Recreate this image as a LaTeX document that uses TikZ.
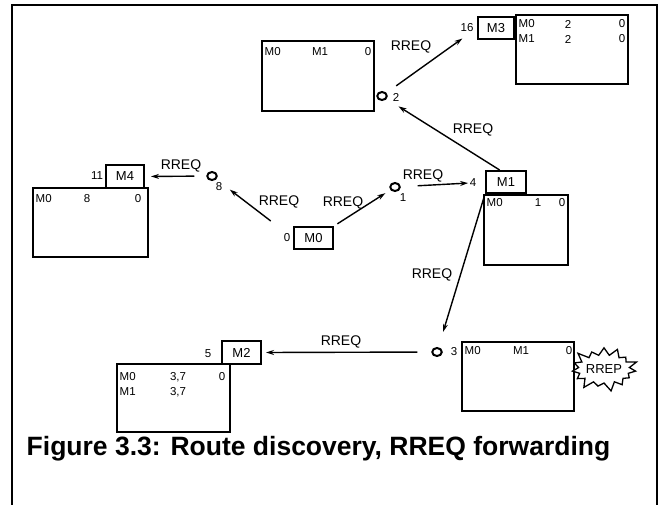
\documentclass[tikz,border=0pt]{standalone}
\usepackage{fontspec}
\setmainfont{Liberation Sans}
\usetikzlibrary{arrows.meta, shapes.geometric, shapes.symbols}

\begin{document}
\begin{tikzpicture}[x=1pt, y=-1pt, line width=1.4pt,
  box/.style={draw, line width=2pt, inner sep=0pt, font=\fontsize{13}{15}\selectfont},
  tab/.style={draw, line width=2pt, inner sep=0pt},
  hop/.style={draw, ellipse, line width=2pt, minimum width=9.5pt, minimum height=8pt, inner sep=0pt},
  txt/.style={inner sep=0pt, font=\fontsize{11.5}{13}\selectfont},
  msg/.style={inner sep=0pt, font=\fontsize{14}{16}\selectfont},
  arr/.style={-{Stealth[length=8pt, width=5pt]}, line width=1.4pt}]
  \useasboundingbox (0,0) rectangle (658,504);
  % frame
  \draw[line width=2pt] (11.5,506) -- (11.5,5) -- (656.5,5) -- (656.5,506);
  % node reached at hop 2
  \node[tab, minimum width=112pt, minimum height=70pt] (tabtwo) at (318,76) {};
  \node[txt, anchor=west] (tabtwoa) at (264,52) {M0};
  \node[txt] (tabtwob) at (320,52) {M1};
  \node[txt, anchor=east] (tabtwoc) at (372,52) {0};
  \node[hop] (ctwo) at (382,96) {};
  \node[txt] (ltwo) at (396,97) {2};
  % M3
  \node[txt] (lsixteen) at (467,28) {16};
  \node[box, minimum width=36pt, minimum height=22pt] (mthree) at (496,28) {M3};
  \node[tab, minimum width=112pt, minimum height=69pt] (tabthree) at (572,49.5) {};
  \node[txt, anchor=west] (tabthreea) at (518,24) {M0};
  \node[txt] (tabthreeb) at (568,24) {2};
  \node[txt, anchor=east] (tabthreec) at (626,24) {0};
  \node[txt, anchor=west] (tabthreed) at (518,39) {M1};
  \node[txt] (tabthreee) at (568,39) {2};
  \node[txt, anchor=east] (tabthreef) at (626,39) {0};
  % M4
  \node[txt] (leleven) at (97,176) {11};
  \node[box, minimum width=38pt, minimum height=23pt] (mfour) at (125,176.5) {M4};
  \node[tab, minimum width=115pt, minimum height=69pt] (tabfour) at (90.5,222.5) {};
  \node[txt, anchor=west] (tabfoura) at (35,199) {M0};
  \node[txt] (tabfourb) at (87,199) {8};
  \node[txt, anchor=east] (tabfourc) at (142,199) {0};
  \node[hop] (ceight) at (212,176) {};
  \node[txt] (leight) at (219,187) {8};
  % M0, the source
  \node[txt] (lzero) at (287,238) {0};
  \node[box, minimum width=39pt, minimum height=22pt] (mzero) at (313.5,238) {M0};
  \node[hop] (cone) at (395,187) {};
  \node[txt] (lone) at (403,198) {1};
  % M1
  \node[txt] (lfour) at (473,183) {4};
  \node[box, minimum width=40pt, minimum height=22pt] (mone) at (506,182) {M1};
  \node[tab, minimum width=84pt, minimum height=70pt] (tabone) at (526,230) {};
  \node[txt, anchor=west] (tabonea) at (486,203) {M0};
  \node[txt] (taboneb) at (538,203) {1};
  \node[txt, anchor=east] (tabonec) at (566,203) {0};
  % destination, answers with RREP
  \node[hop] (cthree) at (437,352) {};
  \node[txt] (lthree) at (454,352) {3};
  \node[tab, minimum width=112pt, minimum height=69pt] (tabdest) at (518,376.5) {};
  \node[txt, anchor=west] (tabdesta) at (464,351) {M0};
  \node[txt] (tabdestb) at (521,351) {M1};
  \node[txt, anchor=east] (tabdestc) at (573,351) {0};
  \node[draw, starburst, fill=white, line width=1.3pt, minimum width=62pt, minimum height=48pt,
    starburst point height=10pt, starburst points=15, inner sep=0pt,
    font=\fontsize{13}{15}\selectfont] (rrep) at (604,369) {RREP};
  % M2
  \node[txt] (lfive) at (208,354) {5};
  \node[box, minimum width=39pt, minimum height=23pt] (mtwo) at (241.5,352.5) {M2};
  \node[tab, minimum width=113pt, minimum height=68pt] (tabfive) at (173.5,398) {};
  \node[txt, anchor=west] (tabfivea) at (119,377) {M0};
  \node[txt] (tabfiveb) at (178,377) {3,7};
  \node[txt, anchor=east] (tabfivec) at (226,377) {0};
  \node[txt, anchor=west] (tabfived) at (119,392) {M1};
  \node[txt] (tabfivee) at (178,392) {3,7};
  % RREQ hops
  \draw[arr, shorten <=4pt, shorten >=6pt] (mzero.north east) -- (cone);
  \draw[arr, shorten <=28pt, shorten >=17pt] (mzero.west) -- (ceight);
  \draw[arr, shorten <=17pt, shorten >=1pt] (cone) -- (lfour.west);
  \draw[arr, shorten >=14pt] (mone.118) -- (ctwo);
  \draw[arr, shorten <=12pt, shorten >=18pt] (ctwo) -- (mthree.west);
  \draw[arr, shorten <=2pt, shorten >=16pt] (mone.south west) -- (cthree);
  \draw[arr, shorten <=14pt, shorten >=4pt] (cthree) -- (mtwo.east);
  \draw[arr, shorten <=12pt, shorten >=6pt] (ceight) -- (mfour.east);
  \node[msg] (rqa) at (343,203) {RREQ};
  \node[msg] (rqb) at (279,202) {RREQ};
  \node[msg] (rqc) at (423,176) {RREQ};
  \node[msg] (rqd) at (473,130) {RREQ};
  \node[msg] (rqe) at (411,47) {RREQ};
  \node[msg] (rqf) at (432,275) {RREQ};
  \node[msg] (rqg) at (341,342) {RREQ};
  \node[msg] (rqh) at (181,166) {RREQ};
  % caption
  \node[inner sep=0pt, anchor=base west, font=\bfseries\fontsize{26.5}{32}\selectfont] (caption)
    at (26,455) {Figure 3.3: Route discovery, RREQ forwarding};
\end{tikzpicture}
\end{document}
